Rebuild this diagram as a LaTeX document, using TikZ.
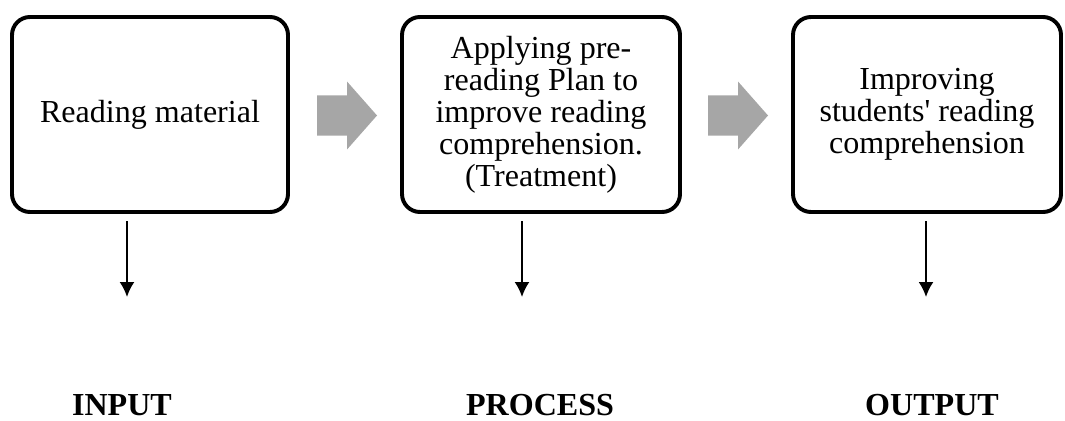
\documentclass[tikz,border=0pt]{standalone}
\usepackage{fontspec}
\setmainfont{Liberation Serif}
\usetikzlibrary{positioning,arrows.meta}
\tikzset{>={Latex[width=3.75mm,length=3.75mm]}}
\definecolor{blockgray}{HTML}{A6A6A6}
\tikzset{stage/.style={draw, line width=2.8pt, rounded corners=4.5mm, align=center,
			inner sep=0pt, minimum height=4.875cm, font=\fontsize{22.8}{22.8}\selectfont}}
\tikzset{phase/.style={anchor=base, inner sep=0pt, font=\fontsize{22.8}{22.8}\selectfont\bfseries}}
\tikzset{flow/.style={->, line width=1.4pt, shorten <=1.8mm}}
\tikzset{blockarrow/.style={fill=blockgray}}

\begin{document}
\begin{tikzpicture}
		\useasboundingbox (0,0) rectangle (26.625,10.5);
		
		\node[stage, minimum width=6.9cm] (input) at (3.75,7.6375) {Reading material};
		\node[stage, minimum width=6.95cm] (process) at (13.525,7.6375) {Applying pre-\\reading Plan to\\improve reading\\comprehension.\\(Treatment)};
		\node[stage, minimum width=6.7cm] (output) at (23.175,7.6375) {Improving\\students\textquotesingle{} reading\\comprehension};
		
		% gray block arrows between the stages
		\fill[blockarrow] (7.925,7.1125) -- (8.675,7.1125) -- (8.675,6.7625) -- (9.425,7.6125)
			-- (8.675,8.4625) -- (8.675,8.1125) -- (7.925,8.1125) -- cycle;
		\fill[blockarrow] (17.7,7.1125) -- (18.45,7.1125) -- (18.45,6.7625) -- (19.2,7.6125)
			-- (18.45,8.4625) -- (18.45,8.1125) -- (17.7,8.1125) -- cycle;
		
		\coordinate (inEnd) at (3.175,3.075);
		\coordinate (procEnd) at (13.05,3.075);
		\coordinate (outEnd) at (23.15,3.075);
		\draw[flow] (input.south -| inEnd) -- (inEnd);
		\draw[flow] (process.south -| procEnd) -- (procEnd);
		\draw[flow] (output.south -| outEnd) -- (outEnd);
		
		\node[phase] (inTag) at (3.05,0.125) {INPUT};
		\node[phase] (procTag) at (13.5,0.125) {PROCESS};
		\node[phase] (outTag) at (23.3,0.125) {OUTPUT};
	\end{tikzpicture}
\end{document}
